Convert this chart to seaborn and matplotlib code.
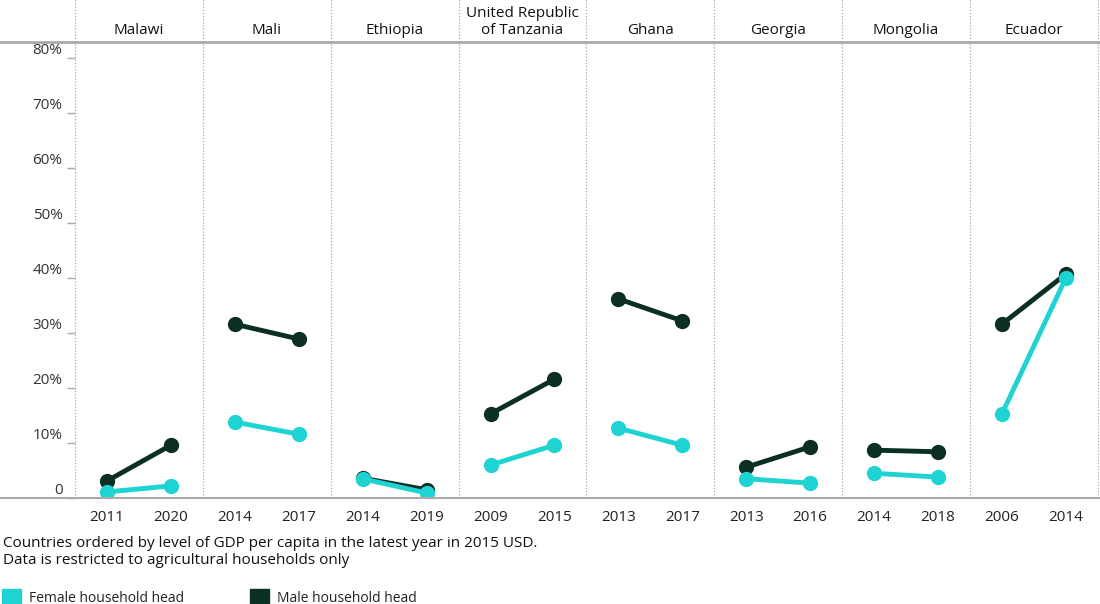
import matplotlib
matplotlib.use("Agg")
import matplotlib.pyplot as plt
from matplotlib.lines import Line2D
from matplotlib.patches import Patch
import pandas as pd
import seaborn as sns

# Données (part en %)
countries = ["Malawi", "Mali", "Ethiopia", "United Republic\nof Tanzania",
             "Ghana", "Georgia", "Mongolia", "Ecuador"]
year_first = [2011, 2014, 2014, 2009, 2013, 2013, 2014, 2006]
year_last = [2020, 2017, 2019, 2015, 2017, 2016, 2018, 2014]
female_first = [1.1, 13.8, 3.5, 6.0, 12.7, 3.5, 4.5, 15.3]
female_last = [2.2, 11.6, 0.9, 9.6, 9.6, 2.7, 3.8, 40.0]
male_first = [3.1, 31.6, 3.6, 15.3, 36.2, 5.6, 8.7, 31.6]
male_last = [9.6, 28.9, 1.5, 21.6, 32.2, 9.3, 8.4, 40.7]
y_ticks = [0, 10, 20, 30, 40, 50, 60, 70, 80]
y_labels = ["0", "10%", "20%", "30%", "40%", "50%", "60%", "70%", "80%"]

FEMALE = "#1fd3d3"
MALE = "#0c2f25"
GRIS = "#aaaaaa"
FS = 11

rows = []
for i, c in enumerate(countries):
    for pos, yr in enumerate([year_first[i], year_last[i]]):
        rows.append((c, pos, yr, "Male", [male_first, male_last][pos][i]))
        rows.append((c, pos, yr, "Female", [female_first, female_last][pos][i]))
df = pd.DataFrame(rows, columns=["country", "pos", "year", "sex", "value"])

sns.set_theme(style="white")
plt.rcParams["font.family"] = ["Open Sans", "DejaVu Sans"]

fig, axes = plt.subplots(1, len(countries), figsize=(11, 6.04), dpi=100,
                         sharey=True)
fig.subplots_adjust(left=0.0682, right=0.998, bottom=0.1755, top=0.9305,
                    wspace=0)

for i, (ax, c) in enumerate(zip(axes, countries)):
    sub = df[df["country"] == c]
    sns.lineplot(data=sub, x="pos", y="value", hue="sex",
                 hue_order=["Male", "Female"],
                 palette={"Male": MALE, "Female": FEMALE},
                 marker="o", markersize=11, markeredgewidth=0,
                 linewidth=3.5, legend=False, sort=False, ax=ax)
    ax.set_xlim(-0.5, 1.5)
    ax.set_ylim(0, 82.9)
    for s in ax.spines.values():
        s.set_visible(False)
    ax.set_xticks([0, 1])
    ax.set_xticklabels([str(year_first[i]), str(year_last[i])])
    ax.set_xticks([-0.5, 0.5, 1.5], minor=True)
    ax.tick_params(axis="x", which="major", length=0, pad=9,
                   labelsize=FS, labelcolor="#222222")
    ax.tick_params(axis="x", which="minor", length=10, width=1.2,
                   color=GRIS)
    ax.set_xlabel(""); ax.set_ylabel("")
    ax.set_title(c, fontsize=FS, color="#111111", pad=6, linespacing=1.15)
    ax.axvline(-0.5, ymin=0, ymax=1.095, ls=(0, (1, 1.5)), lw=0.9,
               color=GRIS, clip_on=False)
    if i == len(countries) - 1:
        ax.axvline(1.5, ymin=0, ymax=1.095, ls=(0, (1, 1.5)), lw=0.9,
                   color=GRIS, clip_on=False)
    if i == 0:
        ax.set_yticks(y_ticks)
        ax.set_yticklabels(y_labels)
        ax.tick_params(axis="y", length=6, width=1, color=GRIS, pad=3,
                       labelsize=FS, labelcolor="#333333", left=True)
        for lbl in ax.get_yticklabels():
            lbl.set_va("bottom")
    else:
        ax.tick_params(axis="y", left=False)

# lignes horizontales pleine largeur (haut et base)
y_top = 0.9305
y_base = 0.1755
fig.add_artist(Line2D([0, 1], [y_top, y_top], transform=fig.transFigure,
                      color=GRIS, lw=2))
fig.add_artist(Line2D([0, 1], [y_base, y_base], transform=fig.transFigure,
                      color=GRIS, lw=1.5))

fig.text(0.003, 0.086,
         "Countries ordered by level of GDP per capita in the latest year in 2015 USD.\n"
         "Data is restricted to agricultural households only",
         fontsize=FS, color="#111111", va="center", linespacing=1.15)

handles = [Patch(color=FEMALE, label="Female household head"),
           Patch(color=MALE, label="Male household head")]
fig.legend(handles=handles, loc="lower left", bbox_to_anchor=(-0.0095, -0.024),
           ncol=2, frameon=False, fontsize=10, handlelength=1.4,
           handleheight=1.4, handletextpad=0.55, columnspacing=4.7,
           labelcolor="#222222")

fig.savefig("out.png", dpi=100)
plt.close(fig)
